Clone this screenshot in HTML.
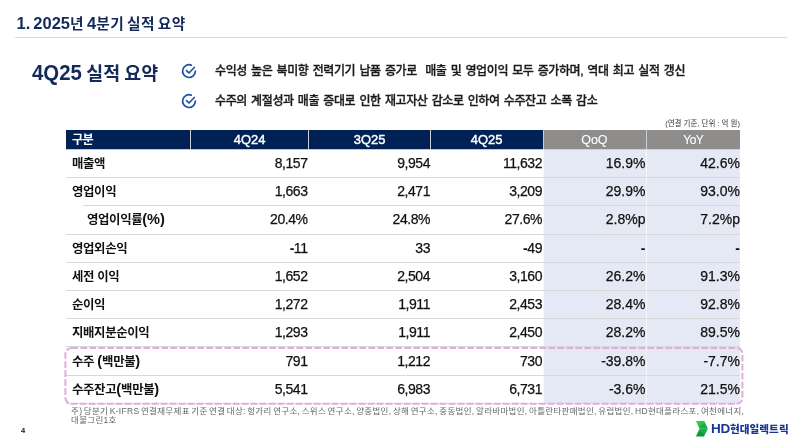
<!DOCTYPE html>
<html lang="ko">
<head>
<meta charset="utf-8">
<title>1. 2025년 4분기 실적 요약</title>
<style>
*{margin:0;padding:0;box-sizing:border-box}
html,body{width:800px;height:448px;background:#fff;overflow:hidden}
body{position:relative;font-family:"Liberation Sans","Noto Sans CJK KR",sans-serif;color:#111}
.abs{position:absolute;white-space:nowrap}
.k{font-size:.91em}
.title{left:16.5px;top:11px;font-size:16.5px;font-weight:700;color:#12295a;line-height:24px;word-spacing:-1.5px}
.title .k{font-size:14.7px;letter-spacing:0.4px}
.rule{left:15px;top:37px;width:772px;height:1px;background:#d9d9d9}
.h2{left:31.6px;top:58px;font-size:20.5px;font-weight:700;color:#12295a;line-height:30px;word-spacing:-1px}
.h2 .k{font-size:18.4px}
.h2 .l{display:inline-block;font-size:21.8px;transform:translateY(.4px) scaleX(.935);transform-origin:0 50%;margin-right:-3.3px}
.bul{left:215px;font-size:12px;font-weight:500;-webkit-text-stroke:0.3px #1a1a1a;color:#1a1a1a;line-height:20px;letter-spacing:-0.4px;word-spacing:1.25px}
.unit{right:60px;top:118px;font-size:7.5px;color:#333;line-height:12px}
.ico{position:absolute;width:20px;height:20px}
table{position:absolute;left:66px;top:130px;border-collapse:collapse;table-layout:fixed;width:674px}
th{height:19px;background:#002156;color:#fff;font-size:13.6px;font-weight:400;-webkit-text-stroke:0.45px #fff;text-align:center;border-left:1px solid #c9ced8;line-height:18px;padding-top:1px}
th span{display:inline-block;transform:scaleX(.95);letter-spacing:0}
th:first-child{border-left:0;text-align:left;padding-left:6px;font-size:12.2px;font-weight:700;-webkit-text-stroke:0;letter-spacing:-0.6px;padding-top:2px;line-height:17px}
th:nth-child(2) span,th:nth-child(3) span{position:relative;left:.8px}
th.g{background:#8f8d8b;font-weight:400;-webkit-text-stroke:0.1px #fff}
th.g span{transform:scaleX(.92)}
th.y span{transform:scaleX(.88);letter-spacing:-0.6px}
td{height:28px;font-size:14px;text-align:right;border-bottom:1px solid #d9d9d9;line-height:25px;padding-top:2px;letter-spacing:-0.45px;color:#111;padding-right:.5px;-webkit-text-stroke:0.25px #111}
tr.t td{height:29px;line-height:26px}
td:first-child{text-align:left;padding-left:6px;font-size:12.4px;font-weight:700;letter-spacing:-0.35px;-webkit-text-stroke:0}
td i{font-style:normal;font-size:14.6px;letter-spacing:0;line-height:10px}
td:first-child span{position:relative;top:0.5px}
td.b{background:#e4e9f5;border-left:1px solid #f6f8fc;letter-spacing:0}
td{vertical-align:top}
td:first-child{padding-top:2px!important}
tr.u1 td{padding-top:1px}
tr.u2 td{padding-top:0}
td b{-webkit-text-stroke:0;font-weight:700}
td:nth-child(3),td:nth-child(5),td:nth-child(6){padding-right:0}
.hb{position:absolute;top:149px;height:1px}
.foot{left:71px;top:406.5px;font-size:8.5px;color:#666;line-height:9.7px;letter-spacing:0.32px;word-spacing:-1.2px}
.pg{left:21px;top:426px;font-size:7.5px;color:#111;line-height:10px;font-weight:700}
.logo{left:711px;top:421px;font-size:13.5px;font-weight:700;color:#17369a;line-height:16px;letter-spacing:-0.3px}
.logo .k{font-size:10.6px;letter-spacing:0.05px;font-weight:900}
</style>
</head>
<body>
<div class="abs title">1. 2025<span class="k">년</span> 4<span class="k">분기 실적 요약</span></div>
<div class="abs rule"></div>
<div class="abs h2"><span class="l">4Q25</span> <span class="k">실적 요약</span></div>
<svg class="ico" style="left:179px;top:61.4px" viewBox="0 0 20 20"><path d="M12.2 4.1A6.4 6.4 0 1 0 16.4 10.1" fill="none" stroke="#2150a6" stroke-width="1.7" stroke-linecap="round"/><path d="M7.6 9.6l2.4 2.4 5.3-5.5" fill="none" stroke="#2150a6" stroke-width="1.7" stroke-linecap="round" stroke-linejoin="round"/></svg>
<svg class="ico" style="left:179px;top:90.6px" viewBox="0 0 20 20"><path d="M12.2 4.1A6.4 6.4 0 1 0 16.4 10.1" fill="none" stroke="#2150a6" stroke-width="1.7" stroke-linecap="round"/><path d="M7.6 9.6l2.4 2.4 5.3-5.5" fill="none" stroke="#2150a6" stroke-width="1.7" stroke-linecap="round" stroke-linejoin="round"/></svg>
<div class="abs bul" style="top:61px">수익성 높은 북미향 전력기기 납품 증가로&nbsp; 매출 및 영업이익 모두 증가하며, 역대 최고 실적 갱신</div>
<div class="abs bul" style="top:91px">수주의 계절성과 매출 증대로 인한 재고자산 감소로 인하여 수주잔고 소폭 감소</div>
<div class="abs unit">(연결 기준, 단위 : 억 원)</div>
<table>
<colgroup><col style="width:124px"><col style="width:118px"><col style="width:122px"><col style="width:113px"><col style="width:103px"><col style="width:94px"></colgroup>
<tr><th>구분</th><th><span>4Q24</span></th><th><span>3Q25</span></th><th><span>4Q25</span></th><th class="g"><span>QoQ</span></th><th class="g y"><span>YoY</span></th></tr>
<tr><td><span>매출액</span></td><td>8,157</td><td>9,954</td><td>11,632</td><td class="b">16.9%</td><td class="b">42.6%</td></tr>
<tr class="u1"><td><span>영업이익</span></td><td>1,663</td><td>2,471</td><td>3,209</td><td class="b">29.9%</td><td class="b">93.0%</td></tr>
<tr class="t u2"><td style="padding-left:21px;padding-top:1px!important"><span>영업이익률<i>(%)</i></span></td><td>20.4%</td><td>24.8%</td><td>27.6%</td><td class="b">2.8%p</td><td class="b">7.2%p</td></tr>
<tr class="u1"><td><span>영업외손익</span></td><td><b>-</b>11</td><td>33</td><td><b>-</b>49</td><td class="b"><b>-</b></td><td class="b"><b>-</b></td></tr>
<tr class="u1"><td><span>세전 이익</span></td><td>1,652</td><td>2,504</td><td>3,160</td><td class="b">26.2%</td><td class="b">91.3%</td></tr>
<tr class="u1"><td><span>순이익</span></td><td>1,272</td><td>1,911</td><td>2,453</td><td class="b">28.4%</td><td class="b">92.8%</td></tr>
<tr class="u1"><td><span>지배지분순이익</span></td><td>1,293</td><td>1,911</td><td>2,450</td><td class="b">28.2%</td><td class="b">89.5%</td></tr>
<tr class="t u1"><td><span>수주 <i>(</i>백만불<i>)</i></span></td><td>791</td><td>1,212</td><td>730</td><td class="b">-39.8%</td><td class="b">-7.7%</td></tr>
<tr class="u1"><td><span>수주잔고<i>(</i>백만불<i>)</i></span></td><td>5,541</td><td>6,983</td><td>6,731</td><td class="b">-3.6%</td><td class="b">21.5%</td></tr>
</table>
<div class="abs" style="left:66px;top:205px;width:17px;height:1px;background:#fff"></div>
<div class="hb" style="left:66px;width:477px;background:rgba(0,32,91,.25)"></div><div class="hb" style="left:544px;width:196px;background:rgba(143,141,139,.25)"></div>
<svg class="abs" style="left:60px;top:340px" width="690" height="70" viewBox="0 0 690 70"><rect x="5.4" y="8" width="677" height="55.75" rx="6" ry="6" fill="none" stroke="#e4abdc" stroke-width="2" stroke-dasharray="6.8 2.2"/></svg>
<div class="abs foot">주) 당분기 K-IFRS 연결재무제표 기준 연결 대상: 헝가리 연구소, 스위스 연구소, 양중법인, 상해 연구소, 중동법인, 알라바마법인, 아틀란타판매법인, 유럽법인, HD현대플라스포, 여천에너지,<br>대불그린1호</div>
<div class="abs pg">4</div>
<svg class="abs" style="left:695px;top:421px" width="14" height="16" viewBox="0 0 14 16"><defs><linearGradient id="ga" x1="0" y1="0" x2="1" y2="1"><stop offset="0" stop-color="#3bd24c"/><stop offset="0.45" stop-color="#27c244"/><stop offset="0.55" stop-color="#12b148"/><stop offset="1" stop-color="#10ae48"/></linearGradient><linearGradient id="gb" x1="0" y1="1" x2="1" y2="0"><stop offset="0" stop-color="#0c9a40"/><stop offset="0.45" stop-color="#0d963f"/><stop offset="0.55" stop-color="#12af48"/><stop offset="1" stop-color="#12b148"/></linearGradient></defs><path d="M.9.1h8.45l3.55 7.7H4.6z" fill="url(#ga)"/><path d="M4.6 7.8h8.3L9 15.6H.9z" fill="url(#gb)"/></svg>
<div class="abs logo">HD<span class="k">현대일렉트릭</span></div>
</body>
</html>
